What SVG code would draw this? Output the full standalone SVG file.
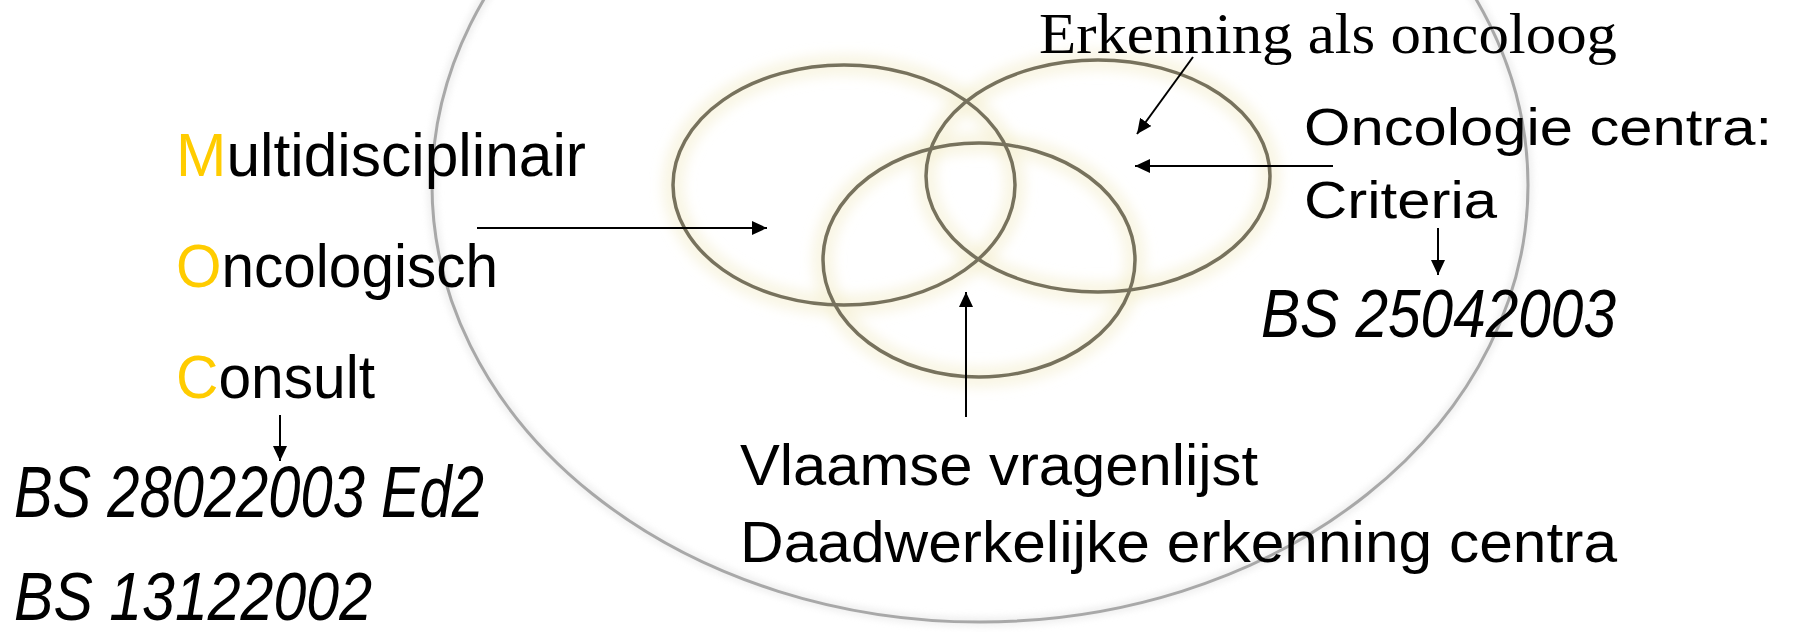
<svg xmlns="http://www.w3.org/2000/svg" width="1795" height="632" viewBox="0 0 1795 632">
<defs>
<style>
.sans{font-family:"Liberation Sans",Arial,sans-serif;fill:#000}
.serif{font-family:"Liberation Serif","Times New Roman",serif;fill:#000}
.it{font-style:italic}
.hl{fill:#FFCC00}
.ring{fill:none;stroke:#77725d;stroke-width:3.5}
.halo{fill:none;stroke:#f4efcf;stroke-width:22;opacity:0.55}
.big{fill:none;stroke:#a8a8a8;stroke-width:3}
.bighalo{fill:none;stroke:#e6e6e6;stroke-width:10;opacity:0.6}
.arrow{fill:none;stroke:#000;stroke-width:2;marker-end:url(#ah)}
</style>
<filter id="soft" x="-20%" y="-20%" width="140%" height="140%"><feGaussianBlur stdDeviation="6"/></filter>
<filter id="soft2" x="-10%" y="-10%" width="120%" height="120%"><feGaussianBlur stdDeviation="3"/></filter>
<marker id="ah" viewBox="0 0 15 14" refX="15" refY="7" markerWidth="15" markerHeight="14" markerUnits="userSpaceOnUse" orient="auto">
<path d="M0,0 L15,7 L0,14 z" fill="#000"/>
</marker>
</defs>
<rect width="1795" height="632" fill="#fff"/>

<g id="big-circle">
<ellipse class="bighalo" cx="980" cy="185" rx="548" ry="437" filter="url(#soft2)"/>
<ellipse class="big" cx="980" cy="185" rx="548" ry="437"/>
</g>

<g id="venn">
<g id="halos" filter="url(#soft)">
<ellipse class="halo" cx="844" cy="185" rx="171" ry="120"/>
<ellipse class="halo" cx="1098" cy="176" rx="172" ry="116"/>
<ellipse class="halo" cx="979" cy="260" rx="156" ry="117"/>
</g>
<g id="ellipse-moc"><ellipse class="ring" cx="844" cy="185" rx="171" ry="120"/></g>
<g id="ellipse-erkenning"><ellipse class="ring" cx="1098" cy="176" rx="172" ry="116"/></g>
<g id="ellipse-vlaams"><ellipse class="ring" cx="979" cy="260" rx="156" ry="117"/></g>
</g>

<g id="connectors">
<line class="arrow" x1="477" y1="228" x2="767" y2="228"/>
<line class="arrow" x1="1333" y1="166" x2="1135" y2="166"/>
<line class="arrow" x1="1193" y1="57" x2="1137" y2="134"/>
<line class="arrow" x1="966" y1="417" x2="966" y2="292"/>
<line class="arrow" x1="280" y1="415" x2="280" y2="461"/>
<line class="arrow" x1="1438" y1="228" x2="1438" y2="275"/>
</g>

<g id="moc-label">
<text class="sans" x="176" y="176" font-size="61" textLength="410" lengthAdjust="spacingAndGlyphs"><tspan class="hl">M</tspan>ultidisciplinair</text>
<text class="sans" x="176" y="287" font-size="61" textLength="322" lengthAdjust="spacingAndGlyphs"><tspan class="hl">O</tspan>ncologisch</text>
<text class="sans" x="176" y="398" font-size="61" textLength="199" lengthAdjust="spacingAndGlyphs"><tspan class="hl">C</tspan>onsult</text>
</g>
<g id="moc-refs">
<text class="sans it" x="14" y="517" font-size="72" textLength="470" lengthAdjust="spacingAndGlyphs">BS 28022003 Ed2</text>
<text class="sans it" x="14" y="620" font-size="68" textLength="358" lengthAdjust="spacingAndGlyphs">BS 13122002</text>
</g>
<g id="erkenning-label">
<text class="serif" x="1039" y="53" font-size="56" textLength="578" lengthAdjust="spacingAndGlyphs">Erkenning als oncoloog</text>
</g>
<g id="centra-label">
<text class="sans" x="1304" y="145" font-size="52" textLength="468" lengthAdjust="spacingAndGlyphs">Oncologie centra:</text>
<text class="sans" x="1304" y="218" font-size="52" textLength="193" lengthAdjust="spacingAndGlyphs">Criteria</text>
</g>
<g id="centra-ref">
<text class="sans it" x="1261" y="337" font-size="68" textLength="355" lengthAdjust="spacingAndGlyphs">BS 25042003</text>
</g>
<g id="vlaams-label">
<text class="sans" x="740" y="485" font-size="58" textLength="518" lengthAdjust="spacingAndGlyphs">Vlaamse vragenlijst</text>
<text class="sans" x="740" y="562" font-size="58" textLength="877" lengthAdjust="spacingAndGlyphs">Daadwerkelijke erkenning centra</text>
</g>
</svg>
